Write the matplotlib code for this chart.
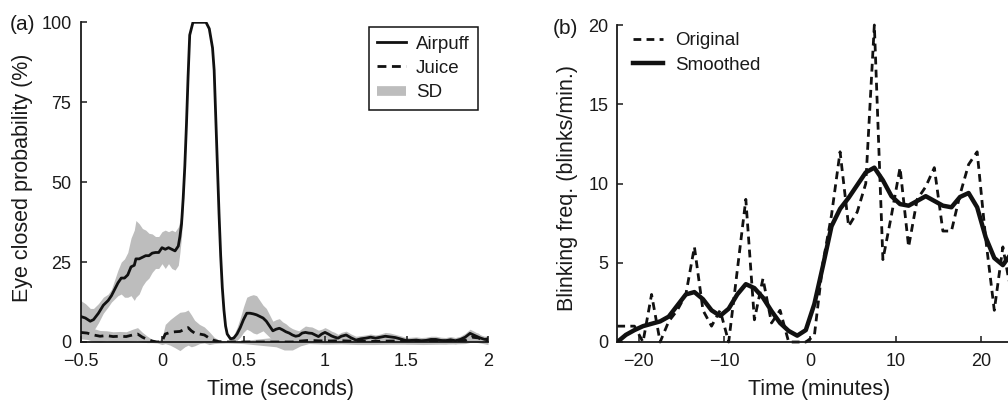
import matplotlib
matplotlib.use("Agg")
import matplotlib.pyplot as plt
from matplotlib.lines import Line2D
import numpy as np

plt.rcParams['font.family'] = ['Liberation Sans', 'DejaVu Sans']

# ---------------- Panel (a) data ----------------
time_airpuff = [-0.50, -0.47, -0.44, -0.42, -0.39, -0.36, -0.33, -0.31, -0.29, -0.27,
                -0.25, -0.23, -0.21, -0.19, -0.17, -0.16, -0.14, -0.12, -0.10, -0.08,
                -0.06, -0.04, -0.02, 0.00, 0.02, 0.04, 0.06, 0.08, 0.10, 0.11,
                0.12, 0.13, 0.14, 0.15, 0.16, 0.17, 0.19, 0.21, 0.23, 0.25,
                0.27, 0.29, 0.31, 0.32, 0.33, 0.34, 0.35, 0.36, 0.37, 0.38,
                0.39, 0.40, 0.42, 0.44, 0.46, 0.48, 0.50, 0.52, 0.54, 0.56,
                0.58, 0.60, 0.62, 0.64, 0.66, 0.68, 0.70, 0.72, 0.74, 0.76,
                0.78, 0.80, 0.82, 0.84, 0.86, 0.88, 0.90, 0.92, 0.94, 0.96,
                0.98, 1.00, 1.02, 1.04, 1.06, 1.08, 1.10, 1.13, 1.16, 1.19,
                1.22, 1.25, 1.28, 1.31, 1.34, 1.37, 1.40, 1.43, 1.46, 1.50,
                1.53, 1.56, 1.59, 1.62, 1.65, 1.68, 1.71, 1.74, 1.77, 1.80,
                1.83, 1.86, 1.89, 1.92, 1.95, 1.98, 2.00]
airpuff = [8.0, 7.5, 6.5, 7.0, 9.0, 11.5, 13.0, 14.5, 16.5, 18.5,
           20.0, 20.0, 21.0, 23.5, 24.0, 26.0, 26.0, 26.5, 27.0, 27.0,
           27.8, 28.0, 28.0, 29.5, 29.0, 29.5, 29.0, 28.5, 30.0, 33.0,
           37.0, 45.0, 55.0, 68.0, 83.0, 96.0, 100.0, 100.0, 100.0, 100.0,
           100.0, 98.0, 92.0, 85.0, 70.0, 55.0, 40.0, 27.0, 17.0, 10.0,
           5.0, 2.5, 1.0, 1.2, 2.5, 4.5, 7.0, 9.0, 9.0, 8.8,
           8.5, 8.0, 7.5, 6.5, 5.0, 3.5, 4.0, 4.3, 3.8, 3.2,
           2.8, 2.2, 1.8, 2.0, 2.8, 3.0, 2.8, 2.7, 2.2, 1.7,
           2.5, 3.0, 2.5, 1.9, 1.5, 1.2, 1.8, 2.2, 1.3, 0.6,
           1.0, 1.2, 1.5, 1.2, 1.5, 1.8, 1.6, 1.4, 1.0, 0.4,
           0.5, 0.6, 0.4, 0.5, 0.8, 0.8, 0.5, 0.4, 0.7, 0.4,
           0.8, 1.5, 2.7, 2.0, 1.3, 0.8, 1.0]
airpuff_sd = [5.0, 4.5, 4.0, 3.5, 3.0, 2.5, 2.0, 2.0, 3.0, 4.0,
              5.0, 6.0, 7.0, 9.0, 11.0, 12.0, 11.0, 9.0, 8.0, 7.0,
              6.0, 5.0, 5.0, 5.0, 6.0, 5.0, 6.0, 6.0, 6.0, 5.0,
              4.0, 3.0, 2.0, 1.0, 0.5, 0.0, 0.0, 0.0, 0.0, 0.0,
              0.0, 0.5, 0.5, 0.5, 0.5, 0.5, 0.5, 0.5, 0.5, 0.5,
              0.5, 0.5, 0.5, 1.0, 2.0, 3.0, 4.0, 5.0, 5.5, 6.0,
              6.0, 5.0, 4.0, 4.0, 3.5, 3.0, 3.0, 3.0, 2.5, 2.5,
              2.0, 2.0, 2.0, 1.5, 1.5, 2.0, 2.0, 2.0, 2.0, 2.0,
              1.5, 1.5, 1.5, 1.5, 1.5, 1.2, 1.2, 1.2, 1.2, 1.2,
              1.0, 1.0, 1.0, 1.0, 1.0, 1.2, 1.2, 1.0, 1.0, 1.0,
              1.0, 1.0, 1.0, 1.0, 1.0, 1.0, 1.0, 1.0, 1.0, 1.0,
              1.0, 1.2, 1.3, 1.2, 1.0, 1.0, 1.0]

time_juice = [-0.50, -0.46, -0.42, -0.38, -0.34, -0.30, -0.26, -0.22, -0.18, -0.15,
              -0.12, -0.09, -0.06, -0.03, 0.00, 0.02, 0.05, 0.08, 0.11, 0.14,
              0.16, 0.18, 0.20, 0.23, 0.26, 0.29, 0.32, 0.35, 0.40, 0.50,
              0.60, 0.70, 0.75, 0.80, 0.85, 0.90, 0.95, 1.00, 1.10, 1.20,
              1.30, 1.40, 1.50, 1.60, 1.70, 1.80, 1.86, 1.90, 1.94, 1.97, 2.00]
juice = [3.0, 2.8, 2.2, 1.8, 2.0, 1.7, 1.8, 1.7, 2.2, 2.5,
         1.5, 0.8, 0.3, 0.0, 0.2, 2.5, 3.0, 3.2, 3.3, 4.0,
         4.5, 3.5, 2.8, 2.5, 2.2, 1.2, 0.5, 0.1, 0.0, 0.0,
         0.0, 0.0, 0.0, 0.0, 0.3, 0.5, 0.4, 0.3, 0.4, 0.2,
         0.2, 0.3, 0.3, 0.2, 0.3, 0.4, 0.5, 1.5, 1.3, 0.5, 0.2]
juice_sd = [2.0, 2.0, 2.0, 1.8, 1.5, 1.5, 1.5, 1.5, 1.8, 2.0,
            1.5, 1.0, 0.5, 0.3, 1.0, 3.0, 4.0, 5.0, 6.0, 5.5,
            5.5, 5.0, 4.0, 3.0, 2.5, 2.0, 1.0, 0.5, 0.3, 0.5,
            1.0, 1.5, 2.5, 2.5, 1.5, 1.0, 1.0, 1.0, 1.0, 1.0,
            1.0, 1.0, 1.0, 1.0, 1.0, 1.0, 1.0, 1.5, 1.5, 1.0, 1.0]

xticks_a = [-0.5, 0, 0.5, 1, 1.5, 2]
xticklabels_a = ['\u22120.5', '0', '0.5', '1', '1.5', '2']
yticks_a = [0, 25, 50, 75, 100]

# ---------------- Panel (b) data ----------------
time_min = [-22.5, -21.5, -20.5, -19.5, -18.5, -17.5, -16.5, -15.5, -14.5, -13.5,
            -12.5, -11.5, -10.5, -9.5, -8.5, -7.5, -6.5, -5.5, -4.5, -3.5,
            -2.5, -1.5, -0.5, 0.5, 1.5, 2.5, 3.5, 4.5, 5.5, 6.5,
            7.5, 8.5, 9.5, 10.5, 11.5, 12.5, 13.5, 14.5, 15.5, 16.5,
            17.5, 18.5, 19.5, 20.5, 21.5, 22.5, 23.5]
original = [1.0, 1.0, 1.0, 0.0, 3.0, 0.0, 1.3, 2.0, 3.0, 6.0,
            2.0, 1.0, 2.0, 0.0, 4.5, 9.0, 1.4, 4.0, 1.2, 2.0,
            0.0, 0.0, 0.0, 0.4, 5.0, 8.0, 12.0, 7.3, 8.2, 10.0,
            20.0, 5.2, 8.0, 11.0, 6.0, 9.0, 9.8, 11.0, 7.0, 7.0,
            9.3, 11.2, 12.0, 6.5, 2.0, 6.0, 3.0]
smoothed = [0.0, 0.45, 0.75, 1.0, 1.15, 1.3, 1.6, 2.3, 3.0, 3.15,
            2.7, 2.0, 1.65, 2.1, 3.0, 3.65, 3.4, 2.8, 1.95, 1.2,
            0.7, 0.4, 0.75, 2.4, 4.8, 7.3, 8.4, 9.1, 9.9, 10.7,
            11.0, 10.2, 9.2, 8.7, 8.6, 8.9, 9.2, 8.9, 8.6, 8.5,
            9.15, 9.4, 8.5, 6.6, 5.3, 4.85, 5.6]

xticks_b = [-20, -10, 0, 10, 20]
xticklabels_b = ['\u221220', '\u221210', '0', '10', '20']
yticks_b = [0, 5, 10, 15, 20]

# ---------------- Figure ----------------
W, H = 1008, 400
fig = plt.figure(figsize=(W / 100, H / 100), dpi=100)

txt = '#1a1a1a'
band = '#bdbdbd'
ink = '#111111'


def px_axes(x0, x1, ytop, ybot):
    return fig.add_axes([x0 / W, 1 - ybot / H, (x1 - x0) / W, (ybot - ytop) / H])


def style(ax):
    for s in ('top', 'right'):
        ax.spines[s].set_visible(False)
    for s in ('left', 'bottom'):
        ax.spines[s].set_linewidth(1.3)
        ax.spines[s].set_color(txt)
    ax.tick_params(direction='in', length=4, width=1.1, colors=txt, labelsize=13)
    ax.tick_params(axis='x', pad=8)
    ax.tick_params(axis='y', pad=6.5)
    ax.set_facecolor('none')


# ---- (a)
axa = px_axes(80.5, 488, 22.3, 342)
style(axa)
ta = np.array(time_airpuff); va = np.array(airpuff); sa = np.array(airpuff_sd)
tj = np.array(time_juice); vj = np.array(juice); sj = np.array(juice_sd)
axa.fill_between(ta, va - sa, va + sa, color=band, lw=0, clip_on=False, zorder=1)
axa.fill_between(tj, vj - sj, vj + sj, color=band, lw=0, clip_on=False, zorder=1)
axa.plot(ta, va, color=ink, lw=2.0, zorder=3, solid_joinstyle='round')
axa.plot(tj, vj, color=ink, lw=2.0, dashes=(3.2, 2.0), zorder=3)
axa.set_xlim(-0.5, 2)
axa.set_ylim(0, 100)
axa.set_xticks(xticks_a)
axa.set_xticklabels(xticklabels_a)
axa.set_yticks(yticks_a)
axa.set_xlabel('Time (seconds)', fontsize=15.5, color=txt)
axa.set_ylabel('Eye closed probability (%)', fontsize=15.5, color=txt)
axa.xaxis.set_label_coords(0.49, -0.116)
axa.yaxis.set_label_coords(-0.117, 0.5125)

handles_a = [Line2D([], [], color=ink, lw=2.0),
             Line2D([], [], color=ink, lw=2.0, dashes=(3.2, 2.0)),
             Line2D([], [], color=band, lw=7, solid_capstyle='butt')]
lega = axa.legend(handles_a, ['Airpuff', 'Juice', 'SD'], loc='upper right',
                  bbox_to_anchor=(0.9755, 0.985), borderaxespad=0, fontsize=13.5,
                  fancybox=False, framealpha=1, edgecolor=ink,
                  handlelength=1.55, handletextpad=0.5, labelspacing=0.38,
                  borderpad=0.45)
lega.get_frame().set_linewidth(1.1)
for t in lega.get_texts():
    t.set_color(txt)
fig.text(10 / W, 1 - 25 / H, '(a)', fontsize=15, color=txt, ha='left', va='center')

# ---- (b)
axb = px_axes(617.3, 1008, 25, 342)
style(axb)
axb.plot(time_min, original, color=ink, lw=2.0, dashes=(2.8, 1.9),
         zorder=2, clip_on=False)
axb.plot(time_min, smoothed, color=ink, lw=3.2, zorder=3,
         solid_joinstyle='round')
axb.set_xlim(-22.5, 23.1)
axb.set_ylim(0, 20)
axb.set_xticks(xticks_b)
axb.set_xticklabels(xticklabels_b)
axb.set_yticks(yticks_b)
axb.set_xlabel('Time (minutes)', fontsize=15.5, color=txt)
axb.set_ylabel('Blinking freq. (blinks/min.)', fontsize=15.5, color=txt)
axb.xaxis.set_label_coords(0.516, -0.117)
axb.yaxis.set_label_coords(-0.1006, 0.486)

handles_b = [Line2D([], [], color=ink, lw=2.0, dashes=(2.8, 1.9)),
             Line2D([], [], color=ink, lw=3.2)]
legb = axb.legend(handles_b, ['Original', 'Smoothed'], loc='upper left',
                  bbox_to_anchor=(0.040, 0.977), borderaxespad=0, borderpad=0,
                  frameon=False, fontsize=13.5, handlelength=1.6,
                  handletextpad=0.65, labelspacing=0.38)
for t in legb.get_texts():
    t.set_color(txt)
fig.text(553 / W, 1 - 28 / H, '(b)', fontsize=15, color=txt, ha='left', va='center')

fig.savefig('out.png', dpi=100)
